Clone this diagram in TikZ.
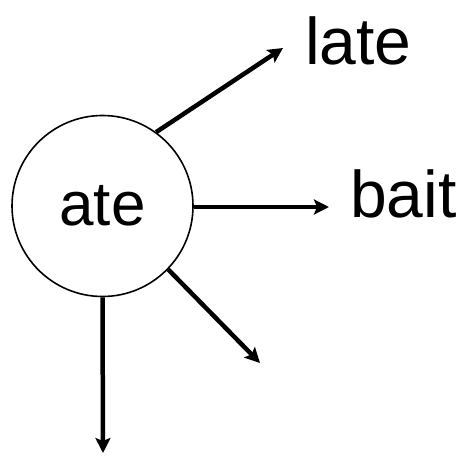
\documentclass[tikz,border=0pt]{standalone}
\usepackage{fontspec}
\setmainfont{Liberation Sans}
\usetikzlibrary{arrows.meta}
\begin{document}
\begin{tikzpicture}[x=1pt,y=1pt,
  arr/.style={line width=4.5pt,-{Stealth[length=15pt,width=15pt,inset=3pt]}},
  lbl/.style={anchor=base west,inner sep=0pt,font=\fontsize{66}{70}\selectfont}]
\useasboundingbox (0,0) rectangle (460,456);
\node[circle,draw,line width=1.6pt,minimum size=181pt,inner sep=0pt,
  font=\fontsize{62}{66}\selectfont] (ate) at (102.5,250) {ate};
\node[lbl] (late) at (305,391) {late};
\node[lbl] (bait) at (350,239) {bait};
\coordinate (t1) at (283,408);
\coordinate (t2) at (329,249);
\coordinate (t3) at (260,93);
\coordinate (t4) at (103,3);
\draw[arr] (ate.54) -- (t1);
\draw[arr] (ate.east |- t2) -- (t2);
\draw[arr] (ate.-44) -- (t3);
\draw[arr] (ate.south) -- (t4);
\end{tikzpicture}
\end{document}
